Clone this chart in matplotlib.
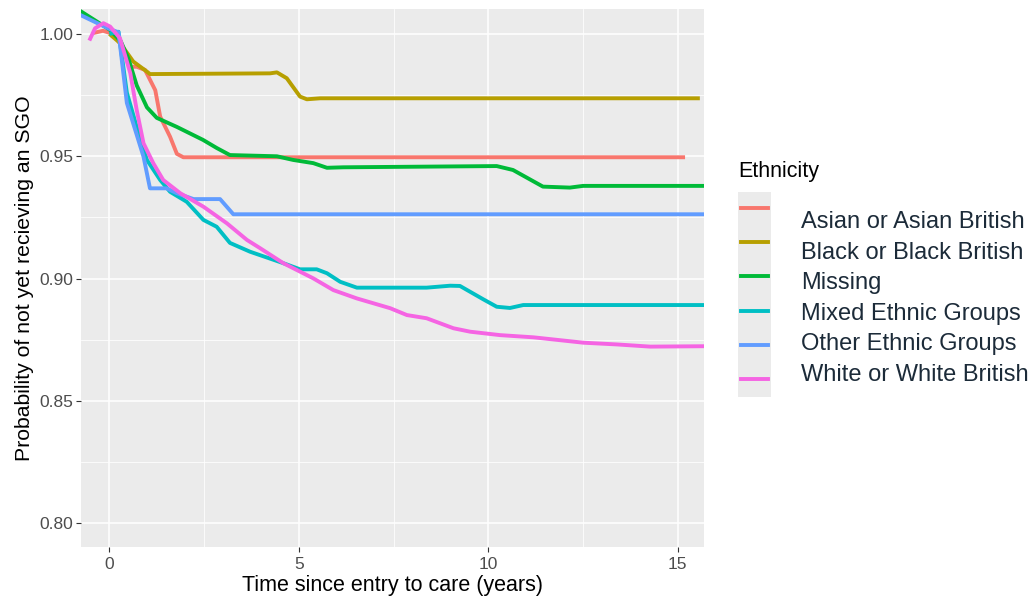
import matplotlib
matplotlib.use("Agg")
import matplotlib.pyplot as plt
from matplotlib.lines import Line2D
from matplotlib.patches import Rectangle

plt.rcParams['font.family'] = ['Liberation Sans', 'DejaVu Sans']

groups = ["Asian or Asian British", "Black or Black British", "Missing",
          "Mixed Ethnic Groups", "Other Ethnic Groups", "White or White British"]
colors = ["#F8766D", "#B79F00", "#00BA38", "#00BFC4", "#619CFF", "#F564E3"]

asian_t = [-0.42, -0.17, 0.1, 0.36, 0.55, 0.72, 0.94, 1.21, 1.34, 1.6, 1.78, 1.95, 15.19]
asian_s = [1.0004, 1.0013, 1.0, 0.9943, 0.9866, 0.9866, 0.9853, 0.977, 0.9662, 0.958, 0.951, 0.9496, 0.9496]

black_t = [0.0, 0.28, 0.63, 0.99, 1.07, 4.24, 4.42, 4.68, 5.03, 5.21, 5.56, 15.58]
black_s = [1.0, 0.9963, 0.9887, 0.9846, 0.9836, 0.9839, 0.9843, 0.9819, 0.9744, 0.9733, 0.9737, 0.9737]

missing_t = [-0.8, 0.02, 0.3, 0.5, 0.72, 0.99, 1.25, 1.78, 2.47, 2.83, 3.18, 4.42, 4.85, 5.38,
             5.74, 6.17, 10.22, 10.65, 11.44, 12.15, 12.5, 16.0]
missing_s = [1.0097, 1.0016, 0.997, 0.990, 0.979, 0.970, 0.9657, 0.962, 0.9567, 0.9534, 0.9505, 0.950,
             0.9485, 0.9472, 0.9453, 0.9455, 0.946, 0.9444, 0.9376, 0.9372, 0.9379, 0.9379]

mixed_t = [0.0, 0.24, 0.46, 0.72, 0.99, 1.34, 1.6, 2.04, 2.48, 2.83, 3.18, 3.71, 4.59, 5.03,
           5.47, 5.74, 6.09, 6.53, 8.37, 8.99, 9.25, 9.87, 10.22, 10.57, 10.92, 16.0]
mixed_s = [1.0, 1.0009, 0.976, 0.962, 0.9485, 0.9403, 0.9355, 0.9314, 0.924, 0.9212, 0.9146,
           0.911, 0.9063, 0.9038, 0.9038, 0.9022, 0.8987, 0.8963, 0.8963, 0.8971, 0.897, 0.8915,
           0.8885, 0.888, 0.8892, 0.8892]

other_t = [-0.8, 0.02, 0.24, 0.46, 0.90, 1.07, 1.51, 1.78, 2.22, 2.92, 3.27, 16.0]
other_s = [1.0080, 1.0019, 1.0007, 0.9718, 0.9498, 0.9369, 0.9369, 0.9349, 0.9325, 0.9325, 0.9263, 0.9263]

white_t = [-0.53, -0.38, -0.16, 0.02, 0.28, 0.55, 0.72, 0.9, 1.16, 1.42, 1.87, 2.48, 3.1, 3.63,
           3.98, 4.59, 5.38, 5.91, 6.53, 7.41, 7.85, 8.37, 9.08, 9.52, 10.31, 11.19, 12.51,
           13.39, 14.27, 16.0]
white_s = [0.9973, 1.0023, 1.0044, 1.003, 0.9982, 0.984, 0.9689, 0.9553, 0.9471, 0.9403, 0.9349,
           0.9294, 0.9226, 0.9158, 0.9124, 0.9063, 0.9001, 0.8953, 0.8919, 0.8879, 0.8851, 0.8838,
           0.8797, 0.8783, 0.8769, 0.876, 0.8738, 0.8731, 0.8722, 0.8724]

series = [(asian_t, asian_s), (black_t, black_s), (missing_t, missing_s),
          (mixed_t, mixed_s), (other_t, other_s), (white_t, white_s)]

x_ticks = [0, 5, 10, 15]
y_ticks = [0.80, 0.85, 0.90, 0.95, 1.00]
y_ticklabels = ["0.80", "0.85", "0.90", "0.95", "1.00"]

W, H = 1035, 604
fig = plt.figure(figsize=(W / 100, H / 100), dpi=100)
ax = fig.add_axes([81 / W, 1 - 547 / H, (704 - 81) / W, (547 - 9) / H])
ax.set_facecolor("#EBEBEB")
for s in ax.spines.values():
    s.set_visible(False)

ax.set_xlim(-0.75, 15.69)
ax.set_ylim(0.7903, 1.0102)
ax.set_xticks(x_ticks)
ax.set_yticks(y_ticks)
ax.set_yticklabels(y_ticklabels)
ax.set_xticks([2.5, 7.5, 12.5], minor=True)
ax.set_yticks([0.825, 0.875, 0.925, 0.975], minor=True)
ax.grid(which="major", color="white", linewidth=1.1)
ax.grid(which="minor", color="white", linewidth=0.55)
ax.set_axisbelow(True)
ax.tick_params(which="major", length=3.5, width=0.8, color="#333333",
               labelcolor="#4D4D4D", labelsize=12.5, pad=2)
ax.tick_params(axis="x", which="major", pad=4)
ax.tick_params(which="minor", length=0)

for (t, s), c in zip(series, colors):
    ax.plot(t, s, color=c, linewidth=2.8, solid_joinstyle="round", solid_capstyle="butt")

ax.set_xlabel("Time since entry to care (years)", fontsize=15.5, color="black", labelpad=2)
ax.set_ylabel("Probability of not yet recieving an SGO", fontsize=15.3, color="black", labelpad=4)

# legend (manual, ggplot-like)
fig.text(738 / W, 1 - 172 / H, "Ethnicity", fontsize=15.5, color="black", va="center", ha="left")
fig.patches.append(Rectangle((738 / W, 1 - 397 / H), 33 / W, 205 / H,
                             transform=fig.transFigure, facecolor="#EBEBEB", edgecolor="none"))
key_y = [208, 242, 276, 311, 345, 379]
lab_y = [222, 253, 283, 314, 344, 375]
for g, c, ky, ly in zip(groups, colors, key_y, lab_y):
    fig.lines.append(Line2D([741 / W, 768 / W], [1 - ky / H, 1 - ky / H], transform=fig.transFigure,
                            color=c, linewidth=2.8))
    fig.text(801 / W, 1 - ly / H, g, fontsize=17, color="#1C2B39", va="center", ha="left")

fig.savefig("out.png", dpi=100)
